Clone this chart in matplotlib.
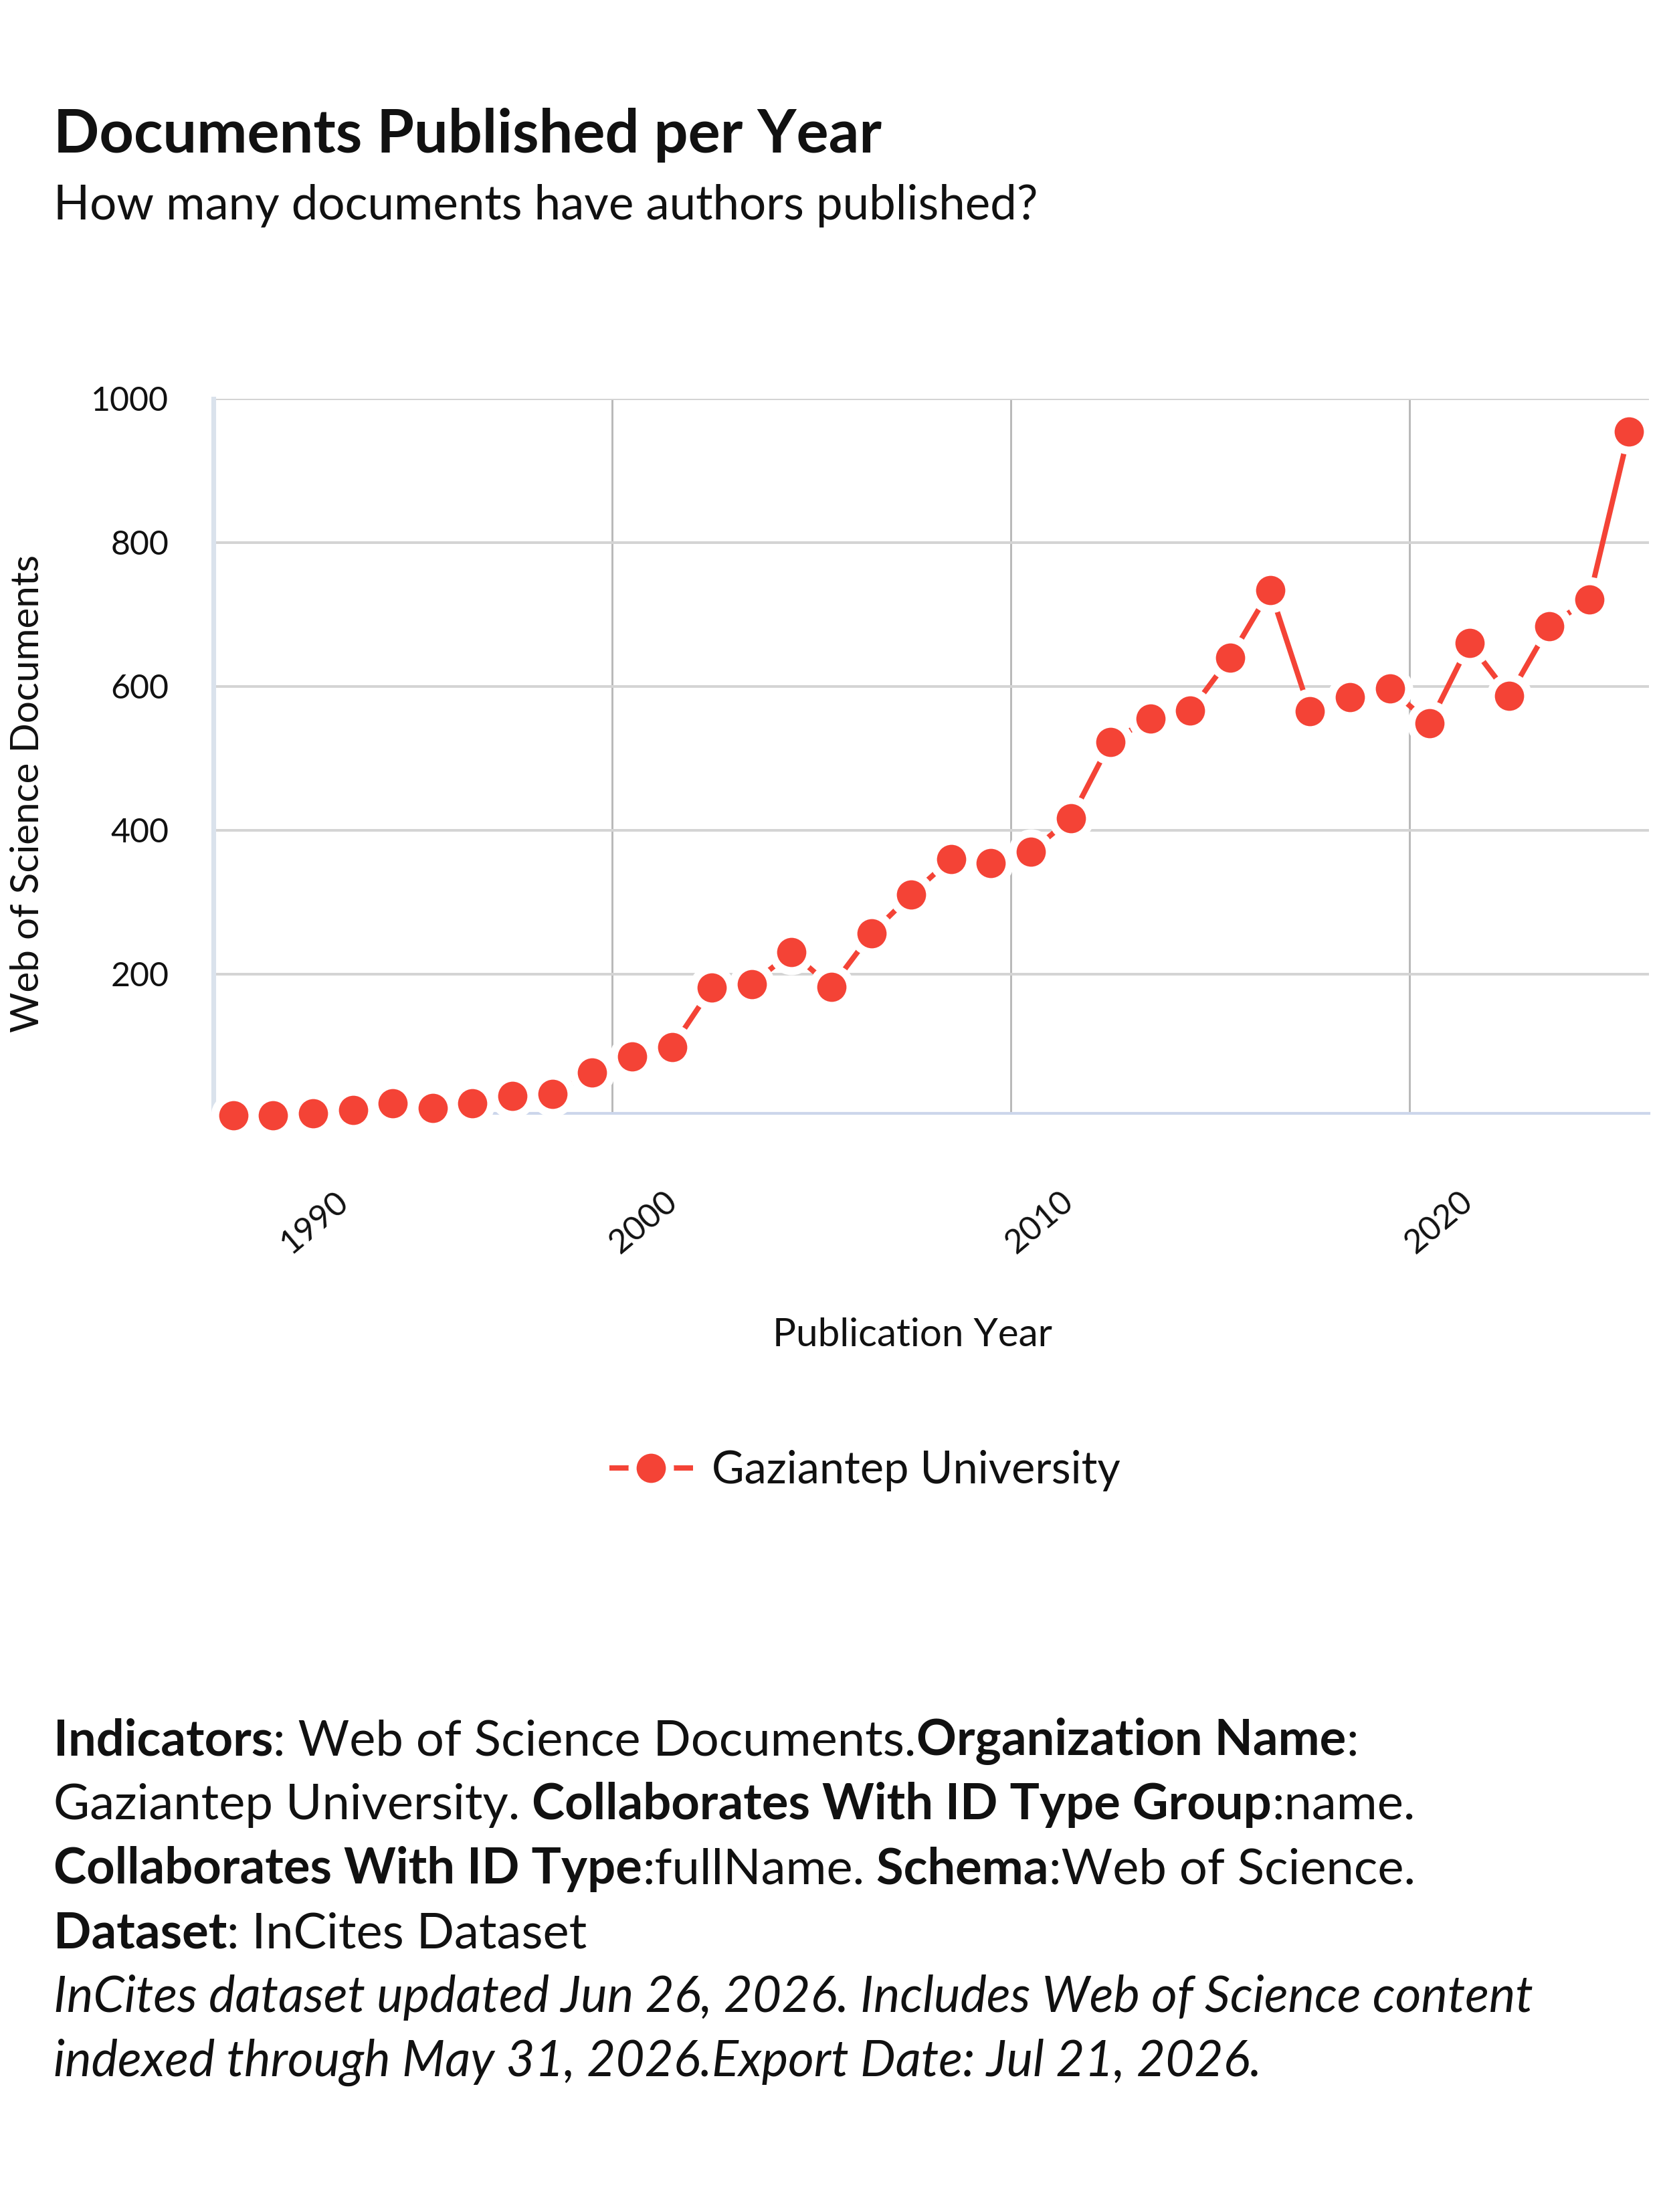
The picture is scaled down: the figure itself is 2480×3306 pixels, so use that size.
import matplotlib
matplotlib.use("Agg")
import matplotlib.pyplot as plt
from matplotlib.transforms import ScaledTranslation

# Web of Science documents per publication year, Gaziantep University
years = list(range(1990, 2026))
documents = [3, 3, 6, 11, 20, 13, 20, 30, 33, 63,
             85, 98, 181, 186, 230, 182, 256, 310, 360, 354,
             370, 416, 523, 555, 566, 640, 734, 565, 585, 597,
             549, 660, 587, 684, 721, 954]
x_ticks = [1990, 2000, 2010, 2020]
y_ticks = [200, 400, 600, 800, 1000]
series_name = "Gaziantep University"

title = "Documents Published per Year"
subtitle = "How many documents have authors published?"
x_label = "Publication Year"
y_label = "Web of Science Documents"

footer_lines = [
    [("Indicators", "bold"), (": Web of Science Documents.", "normal"),
     ("Organization Name", "bold"), (":", "normal")],
    [("Gaziantep University.", "normal"), (" Collaborates With ID Type Group", "bold"),
     (":name.", "normal")],
    [("Collaborates With ID Type", "bold"), (":fullName.", "normal"),
     (" Schema", "bold"), (":Web of Science.", "normal")],
    [("Dataset", "bold"), (": InCites Dataset", "normal")],
]
footer_notes = [
    "InCites dataset updated Jun 26, 2026. Includes Web of Science content",
    "indexed through May 31, 2026.Export Date: Jul 21, 2026.",
]

RED = "#f44336"
INK = "#111111"
W, H, DPI = 2480, 3306, 300

plt.rcParams["font.family"] = ["Lato", "DejaVu Sans"]

fig = plt.figure(figsize=(W / DPI, H / DPI), dpi=DPI)
fx = lambda px: px / W
fy = lambda px: 1 - px / H

ax = fig.add_axes([fx(319), fy(1664), fx(2465) - fx(319), fy(596) - fy(1664)])

# points sit in the middle of each year; wide white rim around each marker
x_mid = [y + 0.5 for y in years]
line, = ax.plot(x_mid, documents, color=RED, lw=1.9, solid_capstyle="butt",
                marker="o", ms=13.4, mfc=RED, mec="white", mew=2.9,
                clip_on=False, zorder=5, label=series_name)

ax.set_xlim(1990, 2026)
ax.set_ylim(6, 1000)
ax.set_xticks(x_ticks)
ax.set_yticks(y_ticks)
ax.set_xticklabels([str(t) for t in x_ticks], rotation=40, ha="right", va="top")

ax.xaxis.grid(True, color="#b8b8b8", lw=0.7)
ax.yaxis.grid(True, color="#d4d4d4", lw=0.95)
ax.set_axisbelow(True)
ax.tick_params(axis="both", length=0, labelsize=12, labelcolor=INK)
ax.tick_params(axis="x", pad=26)
ax.tick_params(axis="y", pad=16)

for side in ("top", "right"):
    ax.spines[side].set_visible(False)
ax.spines["left"].set_color("#dae2ec")
ax.spines["left"].set_linewidth(1.7)
ax.spines["bottom"].set_color("#ccd6eb")
ax.spines["bottom"].set_linewidth(1.0)

# rotated year labels sit to the right of their gridlines
label_shift_px = [211, 106, 102, 103]
for lab, dx in zip(ax.get_xticklabels(), label_shift_px):
    lab.set_transform(lab.get_transform() + ScaledTranslation(dx / DPI, 0, fig.dpi_scale_trans))

ax.set_xlabel(x_label, fontsize=14, color=INK, va="center")
ax.xaxis.set_label_coords((1364 - 319) / 2146, -(1995 - 1664) / 1068)
ax.set_ylabel(y_label, fontsize=14, color=INK, va="center")
ax.yaxis.set_label_coords(-(319 - 42) / 2146, (1664 - 1186) / 1068)

ax.legend(handles=[line], loc="center left", bbox_to_anchor=(fx(911), fy(2198)),
          bbox_transform=fig.transFigure, frameon=False, borderpad=0, borderaxespad=0,
          handlelength=1.87, handletextpad=0.43, fontsize=16, labelcolor=INK)

fig.text(fx(80), fy(228), title, fontsize=21.6, fontweight="bold", color=INK, va="baseline")
fig.text(fx(80), fy(328), subtitle, fontsize=17, color=INK, va="baseline")

renderer = fig.canvas.get_renderer()
base, step = 2623, 96
for i, runs in enumerate(footer_lines):
    x = 80
    for text, weight in runs:
        t = fig.text(fx(x), fy(base + i * step), text, fontsize=17.8, fontweight=weight,
                     color=INK, va="baseline")
        x += t.get_window_extent(renderer).width
for j, note in enumerate(footer_notes):
    fig.text(fx(80), fy(base + (len(footer_lines) + j) * step), note, fontsize=17.9,
             style="italic", color=INK, va="baseline")

fig.savefig("out.png", dpi=DPI, facecolor="white")
